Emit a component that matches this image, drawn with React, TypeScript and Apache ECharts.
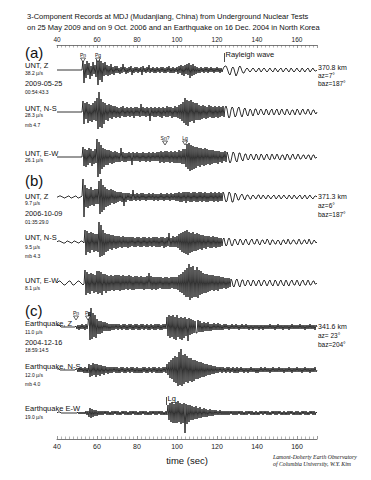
import React, { useEffect, useRef } from "react";
import * as echarts from "echarts";

// time axis (s): two samples per second from T0
const T0 = 40;
const DT = 0.5;
const X_MIN = 40;
const X_MAX = 170;
const tickInterval = 20;

// amplitudes (display units, up = positive); each row = 10 s
const aZ = [
  0,0,0,0,0,0,0,0,0,0, 0,0,0,0,0,0,0,0,0,0,
  0,0,0,0,0,0,10,-13,6,-8, 9,-5,7,-9,4,-6,8,-4,5,-7,
  11,-15,12,-10,9,-12,7,-6,8,-5, 5,-6,4,-5,6,-4,3,-5,4,-3,
  4,-3,2,-4,3,-3,6,-2,3,-4, 2,-3,3,-2,4,-5,2,-3,3,-2,
  3,-3,2,-2,3,-5,4,-2,2,-3, 3,-2,5,-3,2,-2,3,-3,2,-3,
  3,-2,2,-3,3,-2,3,-3,2,-3, 3,-2,4,-3,2,-3,3,-3,2,-2,
  3,-4,4,-3,5,-5,4,-6,5,-4, 6,-5,7,-8,5,-6,6,-5,4,-4,
  3,-3,2,-3,3,-2,2,-3,3,-2, 3,-3,2,-2,3,-2,2,-3,2,-2,
  3,-2,2,-3,2,-2,1,3,4,4, 2,-1,-4,-5,-2,2,3,1,-3,-6,
  -4,-1,3,4,2,-1,-3,-3,-1,1, 2,1,-1,-2,-1,1,2,1,-1,-2,
  -1,1,2,0,-2,-1,1,2,1,-1, -2,-1,1,2,0,-1,-2,0,2,1,
  -1,-2,0,1,2,0,-2,-1,1,2, 1,-1,-2,0,2,1,-1,-2,-1,1,
  2,0,-1,-2,0,2,1,-1,-2,0, 1,2,0,-2,-1,1,2,0,-1,-1,
  0,
];
const aNS = [
  0,0,0,0,0,0,0,0,0,0, 0,0,0,0,0,0,0,0,0,0,
  0,0,0,0,0,0,11,-12,9,-7, 10,-11,8,-9,7,-10,9,-8,11,-9,
  14,-17,20,-15,13,-16,10,-12,9,-8, 7,-9,8,-6,7,-7,6,-5,6,-6,
  5,-5,4,-6,5,-4,6,-5,4,-5, 5,-4,4,-5,5,-4,4,-6,5,-4,
  5,-4,4,-5,8,-4,5,-4,4,-5, 5,-4,4,-9,5,-4,4,-5,5,-5,
  4,-4,5,-5,4,-6,5,-4,4,-5, 6,-5,5,-4,5,-6,4,-5,6,-5,
  5,-6,7,-7,8,-9,10,-11,14,-13, 12,-14,11,-10,12,-9,10,-11,9,-8,
  9,-8,7,-8,6,-7,7,-6,6,-7, 5,-6,7,-5,6,-6,5,-6,6,-5,
  5,-6,6,-5,5,-4,6,-5,4,6, 3,-3,-6,-4,2,5,4,-1,-5,-4,
  0,4,5,1,-3,-5,-2,3,4,1, -3,-4,0,3,2,-2,-4,-1,3,3,
  0,-3,-2,2,3,1,-2,-3,0,3, 2,-2,-3,0,2,3,-1,-3,-1,2,
  3,0,-3,-2,2,3,0,-2,-3,1, 3,1,-2,-3,0,2,2,-1,-3,0,
  3,2,-1,-3,-1,2,3,0,-2,-2, 1,3,1,-2,-3,0,2,2,-1,-2,
  0,
];
const aEW = [
  0,0,0,0,0,0,0,0,0,0, 0,0,0,0,0,0,0,0,0,0,
  0,0,0,0,0,0,10,-9,8,-10, 7,-8,9,-6,8,-9,6,-7,8,-6,
  18,-20,15,-17,12,-12,9,-10,8,-8, 7,-8,7,-6,6,-7,5,-6,6,-5,
  5,-5,4,-5,9,-4,5,-5,4,-5, 4,-4,5,-4,4,-8,5,-4,4,-4,
  5,-4,4,-5,4,-4,5,-4,4,-5, 4,-4,5,-5,4,-4,5,-4,4,-4,
  5,-4,5,-6,6,-5,5,-6,6,-5, 6,-5,5,-6,6,-5,5,-6,6,-6,
  5,-6,7,-6,6,-7,8,-7,8,-10, 13,-12,14,-14,12,-13,11,-12,10,-11,
  10,-9,9,-10,9,-8,8,-9,9,-8, 8,-7,7,-8,7,-7,7,-6,6,-6,
  6,-7,6,-5,5,-6,5,-4,6,-5, 5,2,-3,-6,-4,1,5,4,0,-4,
  -5,-1,4,4,0,-3,-4,0,3,3, -1,-3,-2,2,3,1,-2,-3,0,3,
  2,-2,-3,0,3,2,-1,-3,-1,2, 3,0,-2,-3,1,3,1,-2,-2,1,
  3,1,-2,-3,0,2,2,-1,-3,0, 3,2,-1,-3,-1,2,3,0,-2,-2,
  1,3,1,-2,-2,0,2,2,-1,-2, 0,2,2,-1,-3,0,2,2,-1,-1,
  0,
];
const bZ = [
  0,0,1,1,1,0,0,-1,-1,0, 0,1,1,0,-1,-1,0,0,1,1,
  0,-1,-1,0,0,1,18,-20,12,-10, 9,-11,8,-9,10,-8,7,-9,8,-7,
  8,-7,16,-17,18,-15,12,-13,10,-10, 8,-9,7,-8,8,-6,7,-7,6,-6,
  5,-5,5,-4,5,-5,4,-9,4,-5, 4,-3,4,-4,3,-4,7,-3,3,-4,
  4,-3,3,-4,4,-3,4,-3,3,-4, 3,-3,4,-3,3,-3,4,-4,3,-3,
  3,-4,3,-3,4,-3,3,-4,3,-3, 4,-3,3,-4,4,-3,3,-3,4,-4,
  4,-4,5,-5,4,-5,5,-4,5,-6, 5,-4,5,-5,4,-5,5,-4,5,-5,
  4,-5,5,-4,5,-5,4,-4,5,-5, 4,-5,4,-4,5,-4,4,-5,5,-4,
  4,-5,5,-4,4,-4,5,3,-2,-5, -4,1,5,4,0,-5,-5,-1,4,3,
  0,-3,-3,0,2,3,1,-2,-3,0, 2,2,0,-2,-2,1,2,1,-1,-2,
  0,2,2,-1,-2,0,2,1,-1,-2, 0,2,1,-1,-2,0,1,2,0,-2,
  -1,1,2,0,-2,-1,1,2,0,-1, -2,0,2,1,-1,-2,0,2,1,-1,
  -2,0,1,2,0,-2,-1,1,2,0, -2,-1,1,2,0,-1,-2,0,1,1,
  0,
];
const bNS = [
  0,1,1,1,0,0,-1,-1,-1,0, 1,1,0,0,-1,-1,0,1,1,0,
  0,-1,-1,0,1,1,0,-1,12,-13, 11,-10,9,-11,10,-8,9,-10,8,-9,
  8,-10,20,-15,17,-14,12,-13,9,-10, 8,-9,8,-7,7,-8,7,-6,6,-7,
  6,-6,6,-5,5,-6,6,-5,5,-5, 5,-6,5,-5,5,-4,5,-5,4,-5,
  5,-4,5,-5,4,-5,5,-4,5,-5, 4,-5,5,-4,4,-5,5,-4,5,-5,
  5,-5,4,-5,5,-4,5,-6,4,-5, 5,-4,9,-5,4,-5,6,-5,5,-5,
  6,-6,8,-8,9,-10,10,-11,11,-12, 12,-13,10,-11,9,-10,10,-9,8,-9,
  9,-8,8,-7,7,-8,7,-6,6,-7, 6,-5,6,-6,5,-6,6,-5,5,-6,
  5,-5,4,-5,4,-4,3,4,-1,-4, -3,2,4,2,-2,-4,-2,2,3,1,
  -2,-3,0,3,2,-1,-3,-1,2,3, 0,-2,-3,0,2,3,0,-2,-2,1,
  3,1,-2,-3,0,2,2,-1,-2,0, 3,2,-1,-3,-1,2,2,0,-2,-2,
  1,2,1,-2,-3,0,2,2,-1,-2, 0,3,1,-2,-2,0,2,2,0,-2,
  -2,1,3,1,-2,-2,0,2,2,-1, -2,0,3,1,-2,-2,0,2,1,-1,
  0,
];
const bEW = [
  0,1,2,2,1,0,-1,-2,-2,-1, 0,1,2,2,1,-1,-2,-2,-1,0,
  1,2,2,1,0,-1,-2,-1,13,-12, 11,-10,9,-11,10,-8,9,-10,8,-9,
  12,-11,12,-10,11,-12,9,-8,9,-10, 8,-8,7,-8,8,-7,7,-8,8,-7,
  8,-7,8,-8,7,-7,8,-7,7,-6, 7,-7,8,-6,7,-7,6,-7,7,-6,
  7,-6,6,-6,7,-6,6,-7,6,-6, 7,-6,10,-6,7,-7,6,-6,6,-7,
  6,-6,6,-5,6,-6,5,-6,6,-6, 6,-6,5,-6,6,-5,6,-6,6,-6,
  6,-7,8,-9,9,-10,11,-12,13,-14, 15,-14,19,-17,16,-15,17,-14,13,-14,
  16,-15,13,-12,12,-11,10,-10,9,-10, 9,-9,8,-8,8,-7,8,-8,7,-7,
  7,-8,7,-6,6,-6,6,-5,5,-6, 5,-5,5,-4,4,2,-3,-4,-1,3,
  4,1,-3,-4,0,3,3,-1,-3,-2, 2,3,1,-2,-3,0,3,2,-1,-3,
  -1,2,3,0,-3,-2,1,3,2,-1, -3,-1,2,3,0,-2,-3,0,3,2,
  -1,-3,-1,2,3,0,-2,-3,1,3, 1,-2,-3,0,2,3,0,-2,-2,1,
  3,1,-2,-3,0,2,3,0,-2,-2, 1,3,1,-2,-2,0,2,2,-1,-1,
  0,
];
const cZ = [
  1,2,2,1,0,0,0,0,0,0, 0,0,0,0,0,0,0,0,0,1,
  -2,2,-3,2,-2,3,-2,2,-3,3, -2,3,15,-13,19,-12,14,-10,12,-11,
  8,-7,6,-7,6,-6,5,-4,5,-4, 4,-4,3,-4,3,-3,3,-3,3,-2,
  3,-3,3,-2,2,-3,3,-2,3,-3, 2,-3,3,-2,3,-3,2,-3,3,-2,
  3,-3,2,-3,3,-2,3,-3,2,-2, 3,-3,2,-3,3,-2,2,-3,3,-3,
  3,-2,3,-3,2,-3,3,-2,3,-2, 10,-9,12,-11,11,-10,12,-12,10,-13,
  12,-10,9,-12,10,-13,9,-11,10,-9, 8,-14,9,-8,8,-7,7,-6,6,-6,
  -6,7,-5,6,-5,4,-5,5,-4,4, -4,5,-4,3,-4,3,-3,4,-3,3,
  -3,4,-3,3,-3,2,-3,3,-2,3, -2,2,-3,2,-2,3,-2,2,-2,3,
  -2,2,-3,2,-2,3,-2,2,-2,3, -2,2,-3,2,-2,2,-3,2,-2,2,
  -2,2,-3,2,-2,2,-3,2,-2,2, -2,2,-2,3,-2,2,-2,2,-3,2,
  -2,3,-2,2,-2,2,-3,2,-2,2, -2,2,-3,2,-2,3,-2,2,-2,2,
  -2,2,-2,3,-2,2,-2,2,-3,2, -2,2,-2,3,-2,2,-2,2,-3,2,
  0,
];
const cNS = [
  1,1,1,0,0,0,0,0,0,0, 0,0,0,0,0,0,0,0,0,1,
  1,-2,2,-2,3,-2,2,-3,3,-3, 2,-3,6,-7,5,-6,7,-5,6,-7,
  6,-5,5,-6,5,-4,4,-5,4,-3, 3,-4,3,-3,3,-3,3,-2,3,-3,
  3,-3,2,-3,3,-2,3,-3,2,-3, 3,-2,2,-3,3,-2,3,-3,2,-3,
  3,-3,2,-3,2,-3,3,-2,3,-3, 2,-3,3,-2,2,-3,3,-2,3,-3,
  2,-3,3,-3,2,-3,3,-2,3,-3, 6,-5,8,-8,10,-9,12,-12,14,-13,
  13,-16,18,-15,21,-16,15,-14,16,-12, 14,-13,12,-11,12,-12,10,-11,10,-9,
  9,-9,8,-8,8,-7,7,-7,6,-6, 6,-5,5,-5,5,-4,4,-4,4,-3,
  3,-3,3,-2,3,-3,3,-2,2,-3, 3,-2,3,-3,2,-2,3,-3,2,-3,
  3,-3,2,-2,3,-2,2,-3,2,-2, 2,-3,2,-2,3,-2,2,-2,2,-3,
  2,-3,2,-2,3,-2,2,-2,3,-2, 2,-2,2,-3,2,-2,3,-2,2,-2,
  2,-2,3,-2,2,-2,2,-3,2,-2, 2,-2,3,-2,2,-3,2,-2,2,-2,
  3,-2,2,-2,2,-3,2,-2,3,-2, 2,-2,2,-3,2,-2,2,-2,3,-2,
  0,
];
const cEW = [
  0,1,1,1,0,0,0,0,0,0, 0,0,0,0,0,0,0,0,0,0,
  0,1,-1,1,-1,1,-1,1,-1,2, -2,2,-4,5,-5,4,-4,3,-3,3,
  -3,2,-2,2,-2,2,-2,2,-1,2, -2,2,-2,1,-2,2,-2,2,-1,2,
  -2,2,-2,1,-2,2,-1,2,-2,2, -2,1,-2,2,-2,2,-1,2,-2,2,
  -2,1,-2,2,-2,2,-1,2,-2,2, -2,1,-2,2,-2,2,-1,2,-2,2,
  -2,2,-1,2,-2,2,-2,1,-2,2, -2,8,-7,10,-9,11,-10,9,-10,11,
  -10,12,-9,10,-11,9,-10,10,-20,9, -11,8,-9,8,-7,7,-7,6,-6,7,
  -6,5,-5,6,-5,4,-4,5,-4,4, -4,3,-3,4,-3,3,-3,3,-2,3,
  -2,2,-2,3,-2,2,-2,2,-2,2, -2,2,-2,2,-1,2,-2,2,-2,2,
  -2,2,-1,2,-2,2,-2,1,-2,2, -2,2,-1,2,-2,2,-2,1,-2,2,
  -2,1,-2,2,-1,2,-2,2,-1,2, -2,2,-2,1,-2,2,-1,2,-2,2,
  -2,2,-1,2,-2,1,-2,2,-2,1, -2,2,-2,2,-1,2,-2,1,-2,2,
  -2,2,-2,1,-2,2,-1,2,-2,2, -2,1,-2,2,-1,2,-2,2,-2,1,
  0,
];

// phase picks: [label, time (s)]
const picksAZ: [string, number][] = [["Pn", 53], ["Pg", 60.5]];
const picksAEW: [string, number][] = [["Sn?", 94], ["Lg", 104]];
const picksCZ: [string, number][] = [["Pn", 49.5], ["Pg", 55.5]];
const rayleighA: [string, number] = ["Rayleigh wave", 123.5];
const lgC: [string, number] = ["Lg", 94.5];

const SANS = '"Liberation Sans", Arial, Helvetica, sans-serif';
const SERIF = '"Liberation Serif", "Times New Roman", serif';

const PLOT_LEFT = 57;
const PLOT_W = 260;
const HALF = 25;

type Trace = {
  values: number[];
  base: number;
  picks?: [string, number][];
  pickY?: number;
  flag?: [string, number];
  flagY?: [number, number];
};

const traces: Trace[] = [
  { values: aZ, base: 70, picks: picksAZ, pickY: 10, flag: rayleighA, flagY: [8, 17] },
  { values: aNS, base: 112 },
  { values: aEW, base: 157, picks: picksAEW, pickY: 14 },
  { values: bZ, base: 197 },
  { values: bNS, base: 242 },
  { values: bEW, base: 283 },
  { values: cZ, base: 327, picks: picksCZ, pickY: 9 },
  { values: cNS, base: 370 },
  { values: cEW, base: 413, flag: lgC, flagY: [8, 16] },
];

type Lbl = [string, number, number, number];
const leftLabels: Lbl[] = [
  ["(a)", 25, 52, 15],
  ["UNT, Z", 25, 65, 7.5],
  ["38.2 µ/s", 25, 73, 5],
  ["2009-05-25", 25, 83, 7.3],
  ["00:54:43.3", 25, 92, 5],
  ["UNT, N-S", 25, 108, 7.5],
  ["28.3 µ/s", 25, 115, 5],
  ["mb 4.7", 25, 125, 5],
  ["UNT, E-W", 25, 153, 7.5],
  ["26.1 µ/s", 25, 160, 5],
  ["(b)", 25, 180, 15],
  ["UNT, Z", 25, 196, 7.5],
  ["9.7 µ/s", 25, 203, 5],
  ["2006-10-09", 25, 213, 7.3],
  ["01:35:29.0", 25, 222, 5],
  ["UNT, N-S", 25, 237, 7.5],
  ["9.5 µ/s", 25, 247, 5],
  ["mb 4.3", 25, 256, 5],
  ["UNT, E-W", 25, 280, 7.5],
  ["8.1 µ/s", 25, 288, 5],
  ["(c)", 25, 310, 15],
  ["Earthquake, Z", 25, 323, 7.5],
  ["11.0 µ/s", 25, 332, 5],
  ["2004-12-16", 25, 342, 7.3],
  ["18:59:14.5", 25, 350, 5],
  ["Earthquake, N-S", 25, 366, 7.5],
  ["12.0 µ/s", 25, 375, 5],
  ["mb 4.0", 25, 384, 5],
  ["Earthquake E-W", 25, 408, 7.5],
  ["19.0 µ/s", 25, 417, 5],
];
const rightLabels: Lbl[] = [
  ["370.8 km", 318, 67, 7],
  ["az=7°", 318, 75, 6.5],
  ["baz=187°", 318, 83, 6.5],
  ["371.3 km", 318, 196, 7],
  ["az=6°", 318, 205, 6.5],
  ["baz=187°", 318, 214, 6.5],
  ["341.6 km", 318, 326, 7],
  ["az= 23°", 318, 335, 6.5],
  ["baz=204°", 318, 344, 6.5],
];
const titleLines = [
  "3-Component Records at MDJ (Mudanjiang, China) from Underground Nuclear Tests",
  "on 25 May 2009 and on 9 Oct. 2006 and an Earthquake on 16 Dec. 2004 in North Korea",
];
const creditLines = ["Lamont-Doherty Earth Observatory", "of Columbia University, W.Y. Kim"];
const xAxisName = "time (sec)";

function txt(text: string, x: number, y: number, size: number, family = SANS, style = "normal", align = "left") {
  return {
    type: "text",
    silent: true,
    z: 10,
    style: {
      text,
      x,
      y,
      fontSize: size,
      fontFamily: family,
      fontStyle: style,
      fill: "#111",
      align,
      verticalAlign: "middle",
    },
  };
}

const TRI = "path://M0,0L10,0L5,8Z";

export default function App() {
  const ref = useRef<HTMLDivElement>(null);
  useEffect(() => {
    document.body.style.margin = "0";
    if (!ref.current) return;
    const chart = echarts.init(ref.current, undefined, { renderer: "svg" });

    const axisCommon = {
      type: "value",
      min: X_MIN,
      max: X_MAX,
      interval: tickInterval,
      axisLine: { lineStyle: { color: "#555", width: 0.8 } },
      axisTick: { inside: true, length: 3, lineStyle: { color: "#555", width: 0.6 } },
      minorTick: { show: true, splitNumber: 10, length: 2.5, lineStyle: { color: "#666", width: 0.5 } },
      splitLine: { show: false },
    };
    const grid: any[] = [{ left: PLOT_LEFT, top: 45, width: PLOT_W, height: 394 }];
    const xAxis: any[] = [
      {
        ...axisCommon,
        gridIndex: 0,
        position: "bottom",
        axisLabel: { fontSize: 7, margin: 4, color: "#222", fontFamily: SANS, showMaxLabel: false },
        name: xAxisName,
        nameLocation: "middle",
        nameGap: 16,
        nameTextStyle: { fontSize: 9.5, color: "#111", fontFamily: SANS },
      },
      {
        ...axisCommon,
        gridIndex: 0,
        position: "top",
        axisLabel: { fontSize: 6.5, margin: 2, color: "#222", fontFamily: SANS, showMaxLabel: false },
      },
    ];
    const yAxis: any[] = [{ gridIndex: 0, type: "value", show: false, min: 0, max: 1 }];
    const series: any[] = [];

    traces.forEach((tr, i) => {
      const gi = i + 1;
      grid.push({ left: PLOT_LEFT, width: PLOT_W, top: tr.base - HALF, height: 2 * HALF });
      xAxis.push({ gridIndex: gi, type: "value", min: X_MIN, max: X_MAX, show: false });
      yAxis.push({ gridIndex: gi, type: "value", min: -HALF, max: HALF, show: false });
      const mpData: any[] = [];
      const mlData: any[] = [];
      (tr.picks || []).forEach(([name, t]) => {
        mpData.push({
          name,
          coord: [t, tr.pickY],
          symbol: TRI,
          symbolSize: [5, 4],
          itemStyle: { color: "#fff", borderColor: "#000", borderWidth: 0.6 },
          label: { show: false },
        });
      });
      if (tr.flag && tr.flagY) {
        const [name, t] = tr.flag;
        mlData.push([{ coord: [t, tr.flagY[0]] }, { coord: [t, tr.flagY[1]] }]);
        mpData.push({
          name,
          coord: [t, tr.flagY[1] - 1],
          symbol: "circle",
          symbolSize: 0.01,
          itemStyle: { color: "transparent" },
          label: { show: true, formatter: name, position: "right", distance: 1.5, fontSize: 7.5, color: "#111", fontFamily: SANS },
        });
      }
      series.push({
        type: "line",
        xAxisIndex: gi + 1,
        yAxisIndex: gi,
        data: tr.values.map((v, k) => [T0 + k * DT, v]),
        symbol: "none",
        showSymbol: false,
        silent: true,
        clip: false,
        lineStyle: { color: "#000", width: 0.8 },
        markPoint: mpData.length ? { silent: true, data: mpData } : undefined,
        markLine: mlData.length
          ? { silent: true, symbol: ["none", "none"], label: { show: false }, lineStyle: { color: "#000", width: 0.7, type: "solid" }, data: mlData }
          : undefined,
      });
    });

    const graphics: any[] = [];
    titleLines.forEach((s, k) => graphics.push(txt(s, 27, 16 + k * 11, 7.5)));
    leftLabels.forEach(([s, x, y, f]) => graphics.push(txt(s, x, y, f)));
    rightLabels.forEach(([s, x, y, f]) => graphics.push(txt(s, x, y, f)));
    creditLines.forEach((s, k) => graphics.push(txt(s, 273, 457 + k * 6.5, 5.8, SERIF, "italic")));

    chart.setOption({
      animation: false,
      backgroundColor: "#fff",
      grid,
      xAxis,
      yAxis,
      series,
      graphic: graphics,
    });

    // phase-pick names placed above their triangles, positioned through the axes' scales
    traces.forEach((tr, i) => {
      (tr.picks || []).forEach(([name, t]) => {
        const p = chart.convertToPixel({ xAxisIndex: i + 2, yAxisIndex: i + 1 } as any, [t, tr.pickY as number]) as number[];
        if (p && isFinite(p[0]) && isFinite(p[1])) graphics.push(txt(name, p[0], p[1] - 5, 5, SANS, "normal", "center"));
      });
    });
    chart.setOption({ graphic: graphics });

    return () => chart.dispose();
  }, []);
  return <div ref={ref} style={{ position: "absolute", left: 0, top: 0, width: 371, height: 480 }} />;
}
